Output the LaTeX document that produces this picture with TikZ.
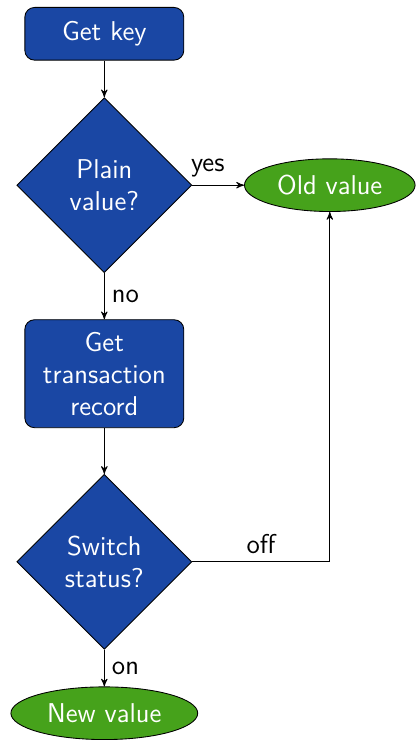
\documentclass[tikz,border=0pt]{standalone}
\usepackage{tikz}
\usetikzlibrary{arrows,shapes,positioning}
\definecolor{stepblue}{RGB}{26,71,164}
\definecolor{endgreen}{RGB}{70,162,27}
\tikzstyle{process}=[rectangle,rounded corners=4.5pt,draw=black,fill=stepblue,text=white,
  minimum width=73.6pt,minimum height=24.4pt,text width=62pt,align=center,inner sep=2pt]
\tikzstyle{decision}=[diamond,draw=black,fill=stepblue,text=white,minimum width=81pt,
  minimum height=81pt,text width=46pt,align=center,inner sep=0pt]
\tikzstyle{terminal}=[ellipse,draw=black,fill=endgreen,text=white,minimum height=24.4pt,inner sep=1pt]

\begin{document}
\begin{tikzpicture}[->,>=stealth',font=\fontsize{12.6}{14.8}\selectfont\sffamily,thin]
\node [process] (key) {Get key};
\node [decision, below=17pt of key] (plain) {Plain\\value?};
\node [terminal, minimum width=79pt, right=24pt of plain] (old) {Old value};
\node [process, minimum height=50pt, below=21.4pt of plain] (record) {Get\\transaction\\record};
\node [decision, below=21.2pt of record] (switch) {Switch\\status?};
\node [terminal, minimum width=86.5pt, below=17pt of switch] (new) {New value};

\draw (key) -- (plain);
\draw (plain) -- node [above, pos=0.3] {yes} (old);
\draw (plain) -- node [right] {no} (record);
\draw (record) -- (switch);
\draw (switch) -| node [above, pos=0.25] {off} (old);
\draw (switch) -- node [right] {on} (new);

\path [use as bounding box] ([xshift=-48.3pt,yshift=15.64pt]key.center)
  rectangle ([xshift=142.14pt,yshift=-324.76pt]key.center);
\end{tikzpicture}
\end{document}
